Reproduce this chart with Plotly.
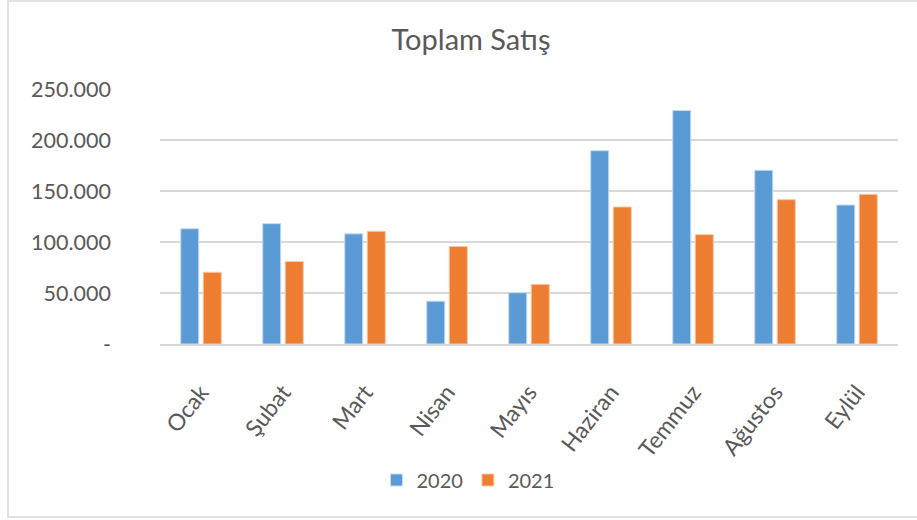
import plotly.graph_objects as go

months = ["Ocak", "Şubat", "Mart", "Nisan", "Mayıs", "Haziran", "Temmuz", "Ağustos", "Eylül"]
sales_2020 = [113000, 118000, 108000, 42000, 50300, 189500, 229000, 170300, 136300]
sales_2021 = [70300, 81000, 110500, 95700, 58500, 134300, 107200, 141500, 146700]
y_tickvals = [0, 50000, 100000, 150000, 200000, 250000]
y_ticktext = ["-", "50.000", "100.000", "150.000", "200.000", "250.000"]

FONT = "Lato"
TXT = "#595959"

fig = go.Figure()
fig.add_trace(go.Bar(name="2020", x=months, y=sales_2020,
                     marker=dict(color="#5b9bd5", line=dict(color="#c9dcf0", width=1))))
fig.add_trace(go.Bar(name="2021", x=months, y=sales_2021,
                     marker=dict(color="#ed7d31", line=dict(color="#f7c9a8", width=1))))

fig.update_layout(
    width=917, height=520,
    margin=dict(l=160, r=19, t=89, b=176, autoexpand=False),
    paper_bgcolor="white", plot_bgcolor="white",
    font=dict(family=FONT, color=TXT),
    barmode="group", bargap=0.45, bargroupgap=0.2,
    title=dict(text="Toplam Satış", x=471/917, xanchor="center",
               y=1-40/520, yanchor="middle", yref="container",
               font=dict(size=29, color=TXT, family=FONT)),
    legend=dict(orientation="h", x=468/917, xanchor="center", xref="container",
                y=1-480/520, yanchor="middle", yref="container",
                font=dict(size=20, color=TXT), traceorder="normal"),
    showlegend=True,
)
fig.update_yaxes(range=[0, 250000], tickvals=y_tickvals, ticktext=y_ticktext,
                 showgrid=True, gridcolor="#d9d9d9", gridwidth=1.5,
                 zeroline=False, showline=False, automargin=False,
                 tickfont=dict(size=21.5, color=TXT), ticklabelstandoff=48)
fig.update_xaxes(showline=True, linecolor="#d9d9d9", linewidth=1.5,
                 tickangle=-52, tickfont=dict(size=23, color=TXT),
                 ticks="", ticklabelstandoff=24, automargin=False)

fig.add_shape(type="rect", xref="paper", yref="paper",
              x0=(8-160)/738, x1=(940-160)/738, y0=(344-517)/255, y1=(344-1)/255,
              line=dict(color="#d9d9d9", width=1.5), fillcolor="rgba(0,0,0,0)", layer="below")

fig.write_html("out.html", config={"displayModeBar": False},
               post_script="document.body.style.margin='0px';")
